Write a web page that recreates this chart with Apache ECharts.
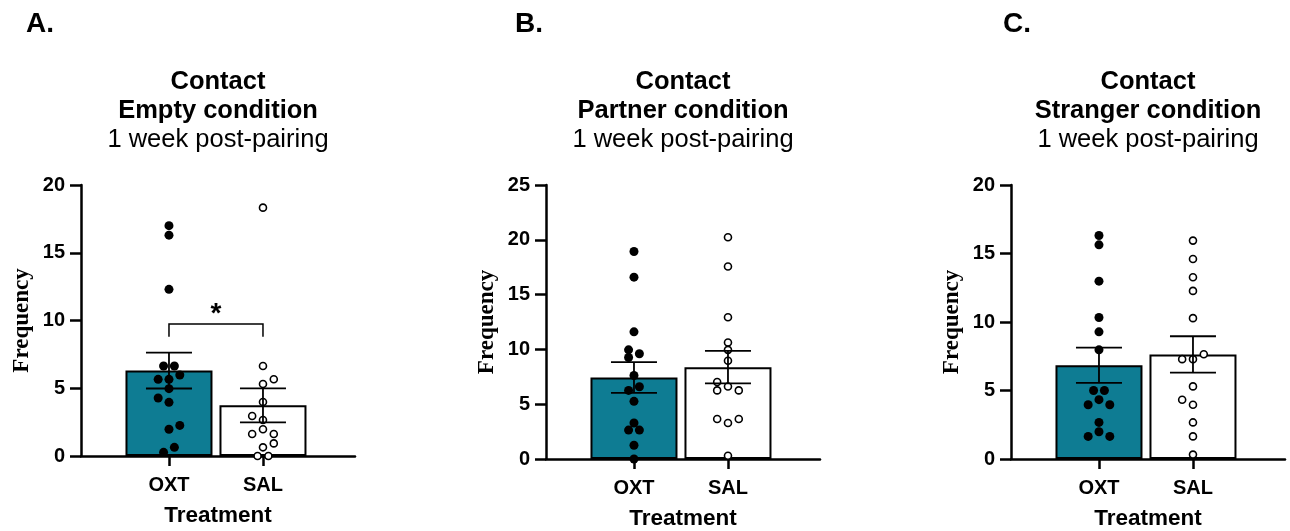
<!DOCTYPE html>
<html>
<head>
<meta charset="utf-8">
<script src="https://cdn.jsdelivr.net/npm/echarts@6/dist/echarts.min.js"></script>
<style>
  html, body { margin: 0; padding: 0; background: #fff; }
  #chart { width: 1290px; height: 531px; }
</style>
</head>
<body>
<div id="chart"></div>
<script>
const groups = ["OXT", "SAL"];
const panelLetters = ["A.", "B.", "C."];
const panelConditions = ["Empty condition", "Partner condition", "Stranger condition"];
const yMaxes = [20, 25, 20];

// individual animals, with their swarm slot (-2..2)
const oxtEmpty = [17.0, 16.3, 12.3, 6.64, 6.64, 5.98, 5.66, 5.66, 4.97, 4.28, 3.96, 2.26, 1.97, 0.64, 0.27];
const oxtEmptySlot = [0, 0, 0, -1, 1, 2, -2, 0, 0, -2, 0, 2, 0, 1, -1];
const salEmpty = [18.33, 6.64, 5.66, 5.31, 3.99, 2.95, 2.66, 1.97, 1.62, 1.62, 0.93, 0.64, 0, 0];
const salEmptySlot = [0, 0, 2, 0, 0, -2, 0, 0, -2, 2, 2, 0, -1, 1];

const oxtPartner = [18.93, 16.59, 11.6, 9.96, 9.6, 9.26, 7.62, 6.59, 6.26, 5.26, 3.28, 2.64, 2.64, 1.25, 0];
const oxtPartnerSlot = [0, 0, 0, -1, 1, -1, 0, 1, -1, 0, 0, -1, 1, 0, 0];
const salPartner = [20.23, 17.56, 12.94, 10.63, 9.96, 8.96, 7.02, 6.26, 6.62, 6.26, 3.65, 3.65, 3.28, 0.3];
const salPartnerSlot = [0, 0, 0, 0, 0, 0, -2, -2, 0, 2, -2, 2, 0, 0];

const oxtStranger = [16.31, 15.63, 12.98, 10.33, 9.28, 7.97, 5.0, 5.0, 4.33, 3.96, 3.96, 2.67, 1.99, 1.65, 1.65];
const oxtStrangerSlot = [0, 0, 0, 0, 0, 0, -1, 1, 0, -2, 2, 0, 0, -2, 2];
const salStranger = [15.94, 14.6, 13.27, 12.27, 10.28, 7.29, 7.29, 7.65, 5.3, 4.33, 3.96, 2.67, 1.65, 0.32];
const salStrangerSlot = [0, 0, 0, 0, 0, -2, 0, 2, 0, -2, 0, 0, 0, 0];

// significance bracket (panel A only): [from group, to group, level, drop]
const sigBracket = [1, 2, 9.74, 8.8];

const panels = [
  { oxt: oxtEmpty, oxtSlot: oxtEmptySlot, sal: salEmpty, salSlot: salEmptySlot },
  { oxt: oxtPartner, oxtSlot: oxtPartnerSlot, sal: salPartner, salSlot: salPartnerSlot },
  { oxt: oxtStranger, oxtSlot: oxtStrangerSlot, sal: salStranger, salSlot: salStrangerSlot }
];

const mean = (a) => a.reduce((s, v) => s + v, 0) / a.length;
const sem = (a) => {
  const m = mean(a);
  const v = a.reduce((s, x) => s + (x - m) * (x - m), 0) / (a.length - 1);
  return Math.sqrt(v / a.length);
};

const gridLefts = [81, 546, 1011];
const gridHeights = [271, 274, 274];
const slotStep = 0.0575;
const teal = "#0E7C93";
const axisFont = "Liberation Sans, Arial, sans-serif";

const grid = [], xAxis = [], yAxis = [], series = [], graphic = [];

const letterX = [26, 515, 1003];
panelLetters.forEach((t, i) => {
  graphic.push({ type: "text", x: letterX[i], y: 24,
    style: { text: t, font: "bold 28px " + axisFont, fill: "#000", align: "left", verticalAlign: "middle" } });
});

panels.forEach((p, i) => {
  const cx = gridLefts[i] + 137;
  graphic.push({ type: "text", x: cx, y: 81.5,
    style: { text: "Contact", font: "bold 25.5px " + axisFont, fill: "#000", align: "center", verticalAlign: "middle" } });
  graphic.push({ type: "text", x: cx, y: 110.5,
    style: { text: panelConditions[i], font: "bold 25.5px " + axisFont, fill: "#000", align: "center", verticalAlign: "middle" } });
  graphic.push({ type: "text", x: cx, y: 139.5,
    style: { text: "1 week post-pairing", font: "25.5px " + axisFont, fill: "#000", align: "center", verticalAlign: "middle" } });

  grid.push({ left: gridLefts[i], top: 185, width: 274, height: gridHeights[i], outerBoundsMode: "none" });
  xAxis.push({
    gridIndex: i, type: "value", min: 0.064, max: 2.979,
    name: "Treatment", nameLocation: "middle", nameGap: 48,
    nameTextStyle: { fontFamily: axisFont, fontWeight: "bold", fontSize: 22.5, color: "#000" },
    axisLine: { onZero: false, lineStyle: { color: "#000", width: 2.5 } },
    axisTick: { customValues: [1, 2], length: 10, lineStyle: { color: "#000", width: 2.5 } },
    axisLabel: { customValues: [1, 2], formatter: (v) => groups[Math.round(v) - 1] || "",
      margin: 19, fontFamily: axisFont, fontWeight: "bold", fontSize: 20, color: "#000" },
    splitLine: { show: false }
  });
  yAxis.push({
    gridIndex: i, type: "value", min: 0, max: yMaxes[i], interval: 5,
    name: "Frequency", nameLocation: "middle", nameGap: 47,
    nameTextStyle: { fontFamily: "Liberation Serif, Times New Roman, serif", fontWeight: "bold", fontSize: 23, color: "#000" },
    axisLine: { show: true, lineStyle: { color: "#000", width: 2.5 } },
    axisTick: { show: true, length: 11, lineStyle: { color: "#000", width: 2.5 } },
    axisLabel: { margin: 16, fontFamily: axisFont, fontWeight: "bold", fontSize: 20, color: "#000" },
    splitLine: { show: false }
  });

  const sets = [
    { vals: p.oxt, slots: p.oxtSlot, x: 1, fill: teal, dot: "#000", dotSize: 9, dotBorder: 0 },
    { vals: p.sal, slots: p.salSlot, x: 2, fill: "#fff", dot: "#fff", dotSize: 7, dotBorder: 1.6 }
  ];

  series.push({
    type: "bar", xAxisIndex: i, yAxisIndex: i, barWidth: 87, z: 1,
    data: sets.map((s) => ({ value: [s.x, mean(s.vals)],
      itemStyle: { color: s.fill, borderColor: "#000", borderWidth: 2 } }))
  });

  sets.forEach((s) => {
    series.push({
      type: "scatter", xAxisIndex: i, yAxisIndex: i, clip: false, z: 3,
      symbol: "circle", symbolSize: s.dotSize,
      itemStyle: { color: s.dot, borderColor: "#000", borderWidth: s.dotBorder, opacity: 1 },
      data: s.vals.map((v, k) => [s.x + s.slots[k] * slotStep, v])
    });
  });

  series.push({
    type: "custom", xAxisIndex: i, yAxisIndex: i, z: 4, clip: false,
    data: sets.map((s) => [s.x, mean(s.vals), sem(s.vals)]),
    renderItem: (params, api) => {
      const x = api.value(0), m = api.value(1), e = api.value(2);
      const t = api.coord([x, m + e]), b = api.coord([x, m - e]);
      const h = 23, st = { stroke: "#000", lineWidth: 1.8 };
      return { type: "group", children: [
        { type: "line", shape: { x1: t[0], y1: t[1], x2: b[0], y2: b[1] }, style: st },
        { type: "line", shape: { x1: t[0] - h, y1: t[1], x2: t[0] + h, y2: t[1] }, style: st },
        { type: "line", shape: { x1: b[0] - h, y1: b[1], x2: b[0] + h, y2: b[1] }, style: st }
      ] };
    }
  });

  if (i === 0) {
    series.push({
      type: "custom", xAxisIndex: i, yAxisIndex: i, z: 4, clip: false,
      data: [sigBracket],
      renderItem: (params, api) => {
        const x1 = api.value(0), x2 = api.value(1), lv = api.value(2), dr = api.value(3);
        const pts = [api.coord([x1, dr]), api.coord([x1, lv]), api.coord([x2, lv]), api.coord([x2, dr])];
        const mid = api.coord([(x1 + x2) / 2, lv]);
        return { type: "group", children: [
          { type: "polyline", shape: { points: pts }, style: { stroke: "#000", lineWidth: 1.5, fill: null } },
          { type: "text", x: mid[0], y: mid[1] - 10,
            style: { text: "*", font: "bold 28px " + axisFont, fill: "#000", align: "center", verticalAlign: "middle" } }
        ] };
      }
    });
  }
});

const chart = echarts.init(document.getElementById("chart"));
chart.setOption({
  animation: false,
  backgroundColor: "#fff",
  graphic: graphic,
  grid: grid,
  xAxis: xAxis,
  yAxis: yAxis,
  series: series
});
</script>
</body>
</html>
